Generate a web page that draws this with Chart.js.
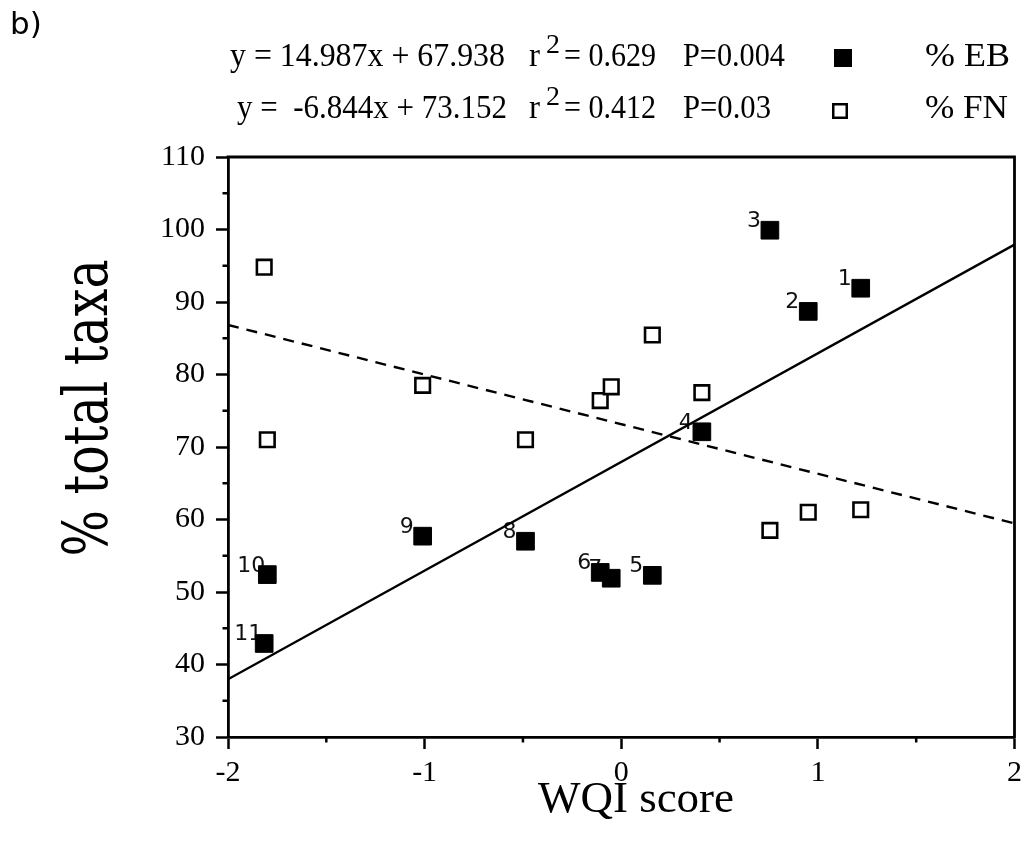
<!DOCTYPE html>
<html><head><meta charset="utf-8">
<script src="https://cdn.jsdelivr.net/npm/chart.js@4.4.1/dist/chart.umd.min.js"></script>
<style>
html,body{margin:0;padding:0;background:#fff;}
#wrap{position:relative;width:1028px;height:851px;overflow:hidden;}
#c{position:absolute;left:0;top:0;}
#ov{position:absolute;left:0;top:0;pointer-events:none;}
</style></head><body>
<div id="wrap">
<canvas id="c" width="1028" height="851"></canvas>
<svg id="ov" width="1028" height="851" xmlns="http://www.w3.org/2000/svg" style="white-space:pre">
  <text x="10" y="34" font-family="DejaVu Sans" font-size="31" fill="#000">b)</text>
  <g font-family="Liberation Serif" font-size="33" fill="#000">
    <text x="230" y="66" textLength="275" lengthAdjust="spacingAndGlyphs" xml:space="preserve">y = 14.987x + 67.938</text>
    <text x="529" y="66">r</text>
    <text x="546" y="53" font-size="28">2</text>
    <text x="564" y="66" textLength="92" lengthAdjust="spacingAndGlyphs">= 0.629</text>
    <text x="683" y="66" textLength="102" lengthAdjust="spacingAndGlyphs">P=0.004</text>
    <rect x="834" y="49" width="18" height="18" fill="#000"/>
    <text x="925" y="66" textLength="85" lengthAdjust="spacingAndGlyphs" xml:space="preserve">% EB</text>
    <text x="237" y="118" textLength="270" lengthAdjust="spacingAndGlyphs" xml:space="preserve">y =  -6.844x + 73.152</text>
    <text x="529" y="118">r</text>
    <text x="546" y="105" font-size="28">2</text>
    <text x="564" y="118" textLength="92" lengthAdjust="spacingAndGlyphs">= 0.412</text>
    <text x="683" y="118" textLength="88" lengthAdjust="spacingAndGlyphs">P=0.03</text>
    <rect x="833.25" y="104.25" width="13.5" height="13.5" fill="#fff" stroke="#000" stroke-width="2.5"/>
    <text x="925" y="118" textLength="83" lengthAdjust="spacingAndGlyphs" xml:space="preserve">% FN</text>
  </g>
  <text x="0" y="0" transform="translate(107,408) rotate(-90) scale(1,1.24)" text-anchor="middle" font-family="DejaVu Serif" font-size="49" fill="#000" xml:space="preserve">% total taxa</text>
  <text x="636" y="812" text-anchor="middle" font-family="Liberation Serif" font-size="45" fill="#000">WQI score</text>
</svg>
</div>
<script>
// ---- data ----
const siteLabels = ['1','2','3','4','5','6','7','8','9','10','11'];
const wqiScore   = [1.218, 0.951, 0.756, 0.41, 0.158, -0.107, -0.051, -0.487, -1.01, -1.80, -1.816];
const ebPercent  = [91.9, 88.7, 99.9, 72.1, 52.3, 52.7, 51.9, 57.0, 57.7, 52.4, 42.9];
const fnPercent  = [61.35, 61.0, 58.5, 77.5, 85.45, 76.4, 78.3, 71.0, 78.5, 71.0, 94.8];
const fitX       = [-2, 2];
const ebFitY     = [37.96, 97.91];
const fnFitY     = [86.84, 59.46];
const xTicks     = [-2, -1, 0, 1, 2];
const yTicks     = [30, 40, 50, 60, 70, 80, 90, 100, 110];
const xMinor     = [-1.5, -0.5, 0.5, 1.5];
const yMinor     = [35, 45, 55, 65, 75, 85, 95, 105];

const AXIS_W = 2.8;

const framePlugin = {
  id: 'frame',
  afterDraw(chart) {
    const {ctx, chartArea: a, scales} = chart;
    ctx.save();
    ctx.strokeStyle = '#000';
    ctx.lineWidth = AXIS_W;
    ctx.lineCap = 'butt';
    ctx.beginPath();
    ctx.moveTo(a.left - AXIS_W / 2, a.top); ctx.lineTo(a.right + AXIS_W / 2, a.top);
    ctx.moveTo(a.right, a.top); ctx.lineTo(a.right, a.bottom + AXIS_W / 2);
    ctx.stroke();
    ctx.lineWidth = 2.5;
    ctx.beginPath();
    yMinor.forEach(v => {
      const y = scales.y.getPixelForValue(v);
      ctx.moveTo(a.left, y); ctx.lineTo(a.left - 5.5, y);
    });
    xMinor.forEach(v => {
      const x = scales.x.getPixelForValue(v);
      ctx.moveTo(x, a.bottom); ctx.lineTo(x, a.bottom + 5.5);
    });
    ctx.stroke();
    ctx.restore();
  }
};

const labelPlugin = {
  id: 'siteLabels',
  beforeDatasetsDraw(chart) {
    const {ctx} = chart;
    const meta = chart.getDatasetMeta(0);
    ctx.save();
    ctx.font = '22px "DejaVu Sans"';
    ctx.fillStyle = '#111';
    ctx.textAlign = 'center';
    ctx.textBaseline = 'alphabetic';
    meta.data.forEach((el, i) => {
      ctx.fillText(siteLabels[i], el.x - 16, el.y - 3);
    });
    ctx.restore();
  }
};

const axisCommon = {
  type: 'linear',
  grid: {drawOnChartArea: false, drawTicks: true, tickLength: 12, tickWidth: 2.5, tickColor: '#000', color: '#000'},
  border: {display: true, color: '#000', width: AXIS_W}
};

new Chart(document.getElementById('c'), {
  type: 'scatter',
  data: {
    datasets: [
      {label: '% EB', data: wqiScore.map((x, i) => ({x, y: ebPercent[i]})),
       pointStyle: 'rect', pointRadius: 12.5, backgroundColor: '#000', borderColor: '#000', borderWidth: 1, order: 0},
      {label: '% FN', data: wqiScore.map((x, i) => ({x, y: fnPercent[i]})),
       pointStyle: 'rect', pointRadius: 10.3, backgroundColor: '#fff', borderColor: '#000', borderWidth: 2.6, order: 1},
      {type: 'line', label: 'EB fit', data: fitX.map((x, i) => ({x, y: ebFitY[i]})),
       borderColor: '#000', borderWidth: 2.4, pointRadius: 0, fill: false, tension: 0, order: 2},
      {type: 'line', label: 'FN fit', data: fitX.map((x, i) => ({x, y: fnFitY[i]})),
       borderColor: '#000', borderWidth: 2.4, borderDash: [11, 8], pointRadius: 0, fill: false, tension: 0, order: 3}
    ]
  },
  options: {
    responsive: false, animation: false, devicePixelRatio: 1,
    layout: {autoPadding: false, padding: {left: 0, right: 12, top: 157, bottom: 0}},
    plugins: {legend: {display: false}, tooltip: {enabled: false}},
    scales: {
      x: Object.assign({}, axisCommon, {
        position: 'bottom', min: -2, max: 2,
        afterBuildTicks: s => { s.ticks = xTicks.map(v => ({value: v})); },
        afterFit: s => { s.height = 114; },
        ticks: {font: {family: 'Liberation Serif', size: 30}, color: '#000', padding: 6, maxRotation: 0, callback: v => String(v)},
        title: {display: false}
      }),
      y: Object.assign({}, axisCommon, {
        position: 'left', min: 30, max: 110,
        afterBuildTicks: s => { s.ticks = yTicks.map(v => ({value: v})); },
        afterFit: s => { s.width = 228; },
        ticks: {font: {family: 'Liberation Serif', size: 30}, color: '#000', padding: 11, callback: v => String(v)},
        title: {display: false}
      })
    }
  },
  plugins: [framePlugin, labelPlugin]
});
</script>
</body></html>
